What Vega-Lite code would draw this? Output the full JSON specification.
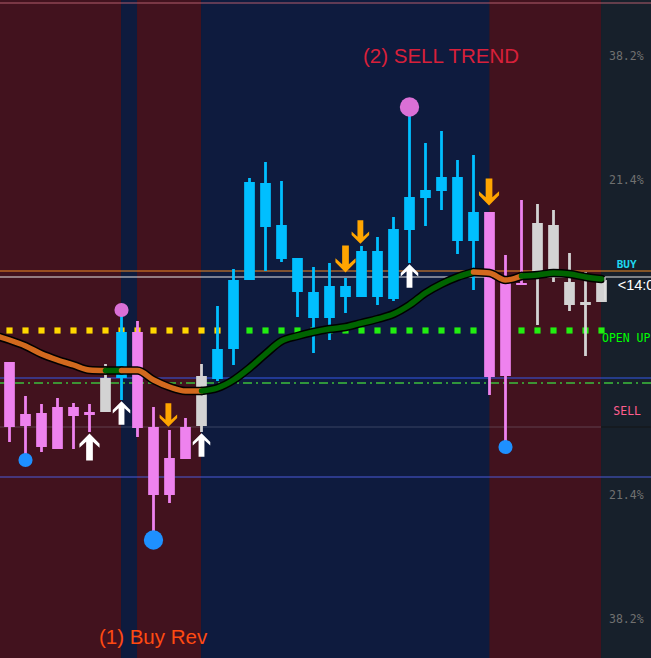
{
  "$schema": "https://vega.github.io/schema/vega-lite/v6.json",
  "width": 651,
  "height": 658,
  "autosize": {"type": "none"},
  "padding": 0,
  "background": "#17202b",
  "config": {"view": {"stroke": null}, "scale": {"continuousPadding": 0}},
  "datasets": {
    "bands": [
      {"x1": -0.6, "x2": 6.97, "cat": "reversal"},
      {"x1": 6.97, "x2": 7.97, "cat": "trend"},
      {"x1": 7.97, "x2": 11.97, "cat": "reversal"},
      {"x1": 11.97, "x2": 30.0, "cat": "trend"},
      {"x1": 30.0, "x2": 36.97, "cat": "reversal"},
      {"x1": 36.97, "x2": 40.2, "cat": "scale"}
    ],
    "levels": [
      {"lvl": 3, "cat": "top"},
      {"lvl": 271, "cat": "entry"},
      {"lvl": 277, "cat": "price"},
      {"lvl": 378, "cat": "open"},
      {"lvl": 477, "cat": "floor"}
    ],
    "candles": [
      {"i": 0, "o": 362, "c": 427, "h": 362, "l": 442, "cat": "bear"},
      {"i": 1, "o": 414, "c": 426, "h": 396, "l": 462, "cat": "bear"},
      {"i": 2, "o": 413, "c": 447, "h": 404, "l": 452, "cat": "bear"},
      {"i": 3, "o": 407, "c": 449, "h": 398, "l": 449, "cat": "bear"},
      {"i": 4, "o": 407, "c": 416, "h": 403, "l": 449, "cat": "bear"},
      {"i": 5, "o": 412, "c": 415, "h": 404, "l": 432, "cat": "bear"},
      {"i": 6, "o": 378, "c": 412, "h": 364, "l": 412, "cat": "flat"},
      {"i": 7, "o": 332, "c": 378, "h": 312, "l": 400, "cat": "bull"},
      {"i": 8, "o": 332, "c": 428, "h": 321, "l": 437, "cat": "bear"},
      {"i": 9, "o": 427, "c": 495, "h": 407, "l": 543, "cat": "bear"},
      {"i": 10, "o": 458, "c": 495, "h": 430, "l": 503, "cat": "bear"},
      {"i": 11, "o": 427, "c": 459, "h": 418, "l": 459, "cat": "bear"},
      {"i": 12, "o": 376, "c": 426, "h": 364, "l": 432, "cat": "flat"},
      {"i": 13, "o": 349, "c": 379, "h": 306, "l": 381, "cat": "bull"},
      {"i": 14, "o": 280, "c": 349, "h": 269, "l": 365, "cat": "bull"},
      {"i": 15, "o": 182, "c": 280, "h": 178, "l": 280, "cat": "bull"},
      {"i": 16, "o": 183, "c": 227, "h": 162, "l": 271, "cat": "bull"},
      {"i": 17, "o": 225, "c": 259, "h": 181, "l": 262, "cat": "bull"},
      {"i": 18, "o": 258, "c": 292, "h": 258, "l": 317, "cat": "bull"},
      {"i": 19, "o": 292, "c": 318, "h": 267, "l": 353, "cat": "bull"},
      {"i": 20, "o": 286, "c": 318, "h": 263, "l": 340, "cat": "bull"},
      {"i": 21, "o": 286, "c": 297, "h": 278, "l": 313, "cat": "bull"},
      {"i": 22, "o": 251, "c": 297, "h": 246, "l": 297, "cat": "bull"},
      {"i": 23, "o": 251, "c": 297, "h": 237, "l": 305, "cat": "bull"},
      {"i": 24, "o": 229, "c": 299, "h": 217, "l": 301, "cat": "bull"},
      {"i": 25, "o": 197, "c": 230, "h": 109, "l": 263, "cat": "bull"},
      {"i": 26, "o": 190, "c": 198, "h": 143, "l": 226, "cat": "bull"},
      {"i": 27, "o": 177, "c": 191, "h": 131, "l": 210, "cat": "bull"},
      {"i": 28, "o": 177, "c": 241, "h": 160, "l": 254, "cat": "bull"},
      {"i": 29, "o": 212, "c": 241, "h": 155, "l": 290, "cat": "bull"},
      {"i": 30, "o": 212, "c": 377, "h": 212, "l": 395, "cat": "bear"},
      {"i": 31, "o": 283, "c": 376, "h": 255, "l": 447, "cat": "bear"},
      {"i": 32, "o": 283, "c": 285, "h": 200, "l": 285, "cat": "bear"},
      {"i": 33, "o": 223, "c": 273, "h": 204, "l": 325, "cat": "flat"},
      {"i": 34, "o": 225, "c": 270, "h": 210, "l": 282, "cat": "flat"},
      {"i": 35, "o": 282, "c": 305, "h": 253, "l": 311, "cat": "flat"},
      {"i": 36, "o": 302, "c": 305, "h": 272, "l": 356, "cat": "flat"},
      {"i": 37, "o": 280, "c": 302, "h": 280, "l": 302, "cat": "flat"}
    ],
    "dots": [
      {"i": 0, "lvl": 330.5, "cat": "wait"}, {"i": 1, "lvl": 330.5, "cat": "wait"}, {"i": 2, "lvl": 330.5, "cat": "wait"},
      {"i": 3, "lvl": 330.5, "cat": "wait"}, {"i": 4, "lvl": 330.5, "cat": "wait"}, {"i": 5, "lvl": 330.5, "cat": "wait"},
      {"i": 6, "lvl": 330.5, "cat": "wait"}, {"i": 7, "lvl": 330.5, "cat": "wait"}, {"i": 8, "lvl": 330.5, "cat": "wait"},
      {"i": 9, "lvl": 330.5, "cat": "wait"}, {"i": 10, "lvl": 330.5, "cat": "wait"}, {"i": 11, "lvl": 330.5, "cat": "wait"},
      {"i": 12, "lvl": 330.5, "cat": "wait"}, {"i": 13, "lvl": 330.5, "cat": "wait"}, {"i": 14, "lvl": 330.5, "cat": "wait"},
      {"i": 15, "lvl": 330.5, "cat": "go"}, {"i": 16, "lvl": 330.5, "cat": "go"}, {"i": 17, "lvl": 330.5, "cat": "go"},
      {"i": 18, "lvl": 330.5, "cat": "go"}, {"i": 19, "lvl": 330.5, "cat": "go"}, {"i": 20, "lvl": 330.5, "cat": "go"},
      {"i": 21, "lvl": 330.5, "cat": "go"}, {"i": 22, "lvl": 330.5, "cat": "go"}, {"i": 23, "lvl": 330.5, "cat": "go"},
      {"i": 24, "lvl": 330.5, "cat": "go"}, {"i": 25, "lvl": 330.5, "cat": "go"}, {"i": 26, "lvl": 330.5, "cat": "go"},
      {"i": 27, "lvl": 330.5, "cat": "go"}, {"i": 28, "lvl": 330.5, "cat": "go"}, {"i": 29, "lvl": 330.5, "cat": "go"},
      {"i": 30, "lvl": 330.5, "cat": "go"}, {"i": 31, "lvl": 330.5, "cat": "go"}, {"i": 32, "lvl": 330.5, "cat": "go"},
      {"i": 33, "lvl": 330.5, "cat": "go"}, {"i": 34, "lvl": 330.5, "cat": "go"}, {"i": 35, "lvl": 330.5, "cat": "go"},
      {"i": 36, "lvl": 330.5, "cat": "go"}, {"i": 37, "lvl": 330.5, "cat": "go"}
    ],
    "ma": [
      {"i": -0.59, "v": 337, "seg": 1, "cat": "falling"},
      {"i": 0, "v": 340, "seg": 1, "cat": "falling"},
      {"i": 1, "v": 346, "seg": 1, "cat": "falling"},
      {"i": 2, "v": 354, "seg": 1, "cat": "falling"},
      {"i": 3, "v": 360, "seg": 1, "cat": "falling"},
      {"i": 4, "v": 365, "seg": 1, "cat": "falling"},
      {"i": 5, "v": 370, "seg": 1, "cat": "falling"},
      {"i": 6, "v": 370.5, "seg": 1, "cat": "falling"},
      {"i": 6, "v": 370.5, "seg": 2, "cat": "rising"},
      {"i": 7, "v": 370.5, "seg": 2, "cat": "rising"},
      {"i": 7, "v": 370.5, "seg": 3, "cat": "falling"},
      {"i": 8, "v": 370.5, "seg": 3, "cat": "falling"},
      {"i": 9, "v": 380, "seg": 3, "cat": "falling"},
      {"i": 10, "v": 387, "seg": 3, "cat": "falling"},
      {"i": 11, "v": 391, "seg": 3, "cat": "falling"},
      {"i": 12, "v": 391, "seg": 3, "cat": "falling"},
      {"i": 12, "v": 391, "seg": 4, "cat": "rising"},
      {"i": 13, "v": 388, "seg": 4, "cat": "rising"},
      {"i": 14, "v": 380, "seg": 4, "cat": "rising"},
      {"i": 15, "v": 368, "seg": 4, "cat": "rising"},
      {"i": 16, "v": 354, "seg": 4, "cat": "rising"},
      {"i": 17, "v": 341, "seg": 4, "cat": "rising"},
      {"i": 18, "v": 336, "seg": 4, "cat": "rising"},
      {"i": 19, "v": 332, "seg": 4, "cat": "rising"},
      {"i": 20, "v": 329, "seg": 4, "cat": "rising"},
      {"i": 21, "v": 327, "seg": 4, "cat": "rising"},
      {"i": 22, "v": 323, "seg": 4, "cat": "rising"},
      {"i": 23, "v": 319, "seg": 4, "cat": "rising"},
      {"i": 24, "v": 314, "seg": 4, "cat": "rising"},
      {"i": 25, "v": 305, "seg": 4, "cat": "rising"},
      {"i": 26, "v": 293, "seg": 4, "cat": "rising"},
      {"i": 27, "v": 284, "seg": 4, "cat": "rising"},
      {"i": 28, "v": 277, "seg": 4, "cat": "rising"},
      {"i": 29, "v": 272, "seg": 4, "cat": "rising"},
      {"i": 29, "v": 272, "seg": 5, "cat": "falling"},
      {"i": 30, "v": 273, "seg": 5, "cat": "falling"},
      {"i": 31, "v": 280, "seg": 5, "cat": "falling"},
      {"i": 32, "v": 276, "seg": 5, "cat": "falling"},
      {"i": 32, "v": 276, "seg": 6, "cat": "rising"},
      {"i": 33, "v": 275, "seg": 6, "cat": "rising"},
      {"i": 34, "v": 273, "seg": 6, "cat": "rising"},
      {"i": 35, "v": 274, "seg": 6, "cat": "rising"},
      {"i": 36, "v": 277, "seg": 6, "cat": "rising"},
      {"i": 37, "v": 279, "seg": 6, "cat": "rising"}
    ],
    "signals": [
      {"i": 1, "v": 460, "cat": "low", "mag": "minor"},
      {"i": 7, "v": 310, "cat": "high", "mag": "minor"},
      {"i": 9, "v": 540, "cat": "low", "mag": "major"},
      {"i": 25, "v": 107, "cat": "high", "mag": "major"},
      {"i": 31, "v": 447, "cat": "low", "mag": "minor"}
    ],
    "arrows": [
      {"i": 5, "v": 447, "cat": "buy", "mag": "strong"},
      {"i": 7, "v": 413, "cat": "buy", "mag": "weak"},
      {"i": 12, "v": 445, "cat": "buy", "mag": "weak"},
      {"i": 25, "v": 276, "cat": "buy", "mag": "weak"},
      {"i": 9.93, "v": 415, "cat": "sell", "mag": "weak"},
      {"i": 21, "v": 259, "cat": "sell", "mag": "strong"},
      {"i": 21.93, "v": 232, "cat": "sell", "mag": "weak"},
      {"i": 29.97, "v": 192, "cat": "sell", "mag": "strong"}
    ],
    "labels": [
      {"label": "(2) SELL TREND", "i": 26.97, "v": 57, "role": "trend"},
      {"label": "(1) Buy Rev", "i": 8.97, "v": 638, "role": "rev"},
      {"label": "38.2%", "i": 37.47, "v": 57, "role": "fib"},
      {"label": "21.4%", "i": 37.47, "v": 181, "role": "fib"},
      {"label": "21.4%", "i": 37.47, "v": 496, "role": "fib"},
      {"label": "38.2%", "i": 37.47, "v": 620, "role": "fib"},
      {"label": "BUY", "i": 37.95, "v": 265, "role": "buy"},
      {"label": "OPEN UP", "i": 37.03, "v": 339, "role": "open"},
      {"label": "SELL", "i": 37.74, "v": 412, "role": "sell"},
      {"label": "<14:0", "i": 38.01, "v": 286, "role": "time"}
    ],
    "misc": [
      {"lvl": 427, "a": 36.97, "b": 40.09, "top": 277, "bottom": 300, "edge": 37.22, "dash": 383}
    ]
  },
  "layer": [
    {
      "data": {"name": "bands"},
      "mark": {"type": "rect", "clip": true},
      "encoding": {
        "x": {"field": "x1", "type": "quantitative", "scale": {"domain": [-0.59375, 40.09375], "nice": false, "zero": false, "padding": 0}, "axis": null},
        "x2": {"field": "x2"},
        "color": {"field": "cat", "type": "nominal", "legend": null,
          "scale": {
            "domain": ["reversal", "trend", "scale", "top", "entry", "price", "open", "floor", "wait", "go", "bear", "bull", "flat", "falling", "rising", "low", "high", "buy", "sell"],
            "range": ["#42121e", "#0e1b3e", "#17202b", "#b25c6c", "#f08a24", "#e6e6e6", "#3558e8", "#4a5ad8", "#ffd700", "#22ee11", "#ee82ee", "#00bfff", "#d3d3d3", "#d2691e", "#006400", "#1e90ff", "#da70d6", "#ffffff", "#ffa500"]}}
      }
    },
    {
      "data": {"name": "levels"},
      "mark": {"type": "rule", "strokeWidth": 1.2},
      "encoding": {
        "y": {"field": "lvl", "type": "quantitative", "scale": {"domain": [0, 658], "reverse": true, "nice": false, "zero": false, "padding": 0}, "axis": null},
        "color": {"field": "cat", "type": "nominal", "legend": null}
      }
    },
    {
      "data": {"name": "misc"},
      "layer": [
        {
          "mark": {"type": "rule", "strokeWidth": 1.2, "color": "#a0a8b8", "opacity": 0.3},
          "encoding": {"y": {"field": "lvl", "type": "quantitative", "axis": null}}
        },
        {
          "mark": {"type": "rule", "strokeWidth": 1.2, "color": "#000000"},
          "encoding": {
            "y": {"field": "lvl", "type": "quantitative", "axis": null},
            "x": {"field": "a", "type": "quantitative", "axis": null},
            "x2": {"field": "b"}
          }
        },
        {
          "mark": {"type": "rule", "strokeWidth": 1.3, "color": "#3cbf3c", "strokeDash": [9, 4, 2, 4]},
          "encoding": {"y": {"field": "dash", "type": "quantitative", "axis": null}}
        }
      ]
    },
    {
      "data": {"name": "dots"},
      "mark": {"type": "square", "size": 38, "opacity": 1},
      "encoding": {
        "x": {"field": "i", "type": "quantitative", "axis": null},
        "y": {"field": "lvl", "type": "quantitative", "axis": null},
        "color": {"field": "cat", "type": "nominal", "legend": null}
      }
    },
    {
      "data": {"name": "candles"},
      "layer": [
        {
          "mark": {"type": "rule", "strokeWidth": 2.8},
          "encoding": {
            "x": {"field": "i", "type": "quantitative", "axis": null},
            "y": {"field": "h", "type": "quantitative", "axis": null},
            "y2": {"field": "l"},
            "color": {"field": "cat", "type": "nominal", "legend": null}
          }
        },
        {
          "mark": {"type": "bar", "width": 10.7},
          "encoding": {
            "x": {"field": "i", "type": "quantitative", "axis": null},
            "y": {"field": "o", "type": "quantitative", "axis": null},
            "y2": {"field": "c"},
            "color": {"field": "cat", "type": "nominal", "legend": null}
          }
        }
      ]
    },
    {
      "data": {"name": "ma"},
      "layer": [
        {
          "mark": {"type": "line", "strokeWidth": 8.5, "color": "#000000", "interpolate": "monotone", "strokeCap": "round", "clip": true},
          "encoding": {
            "x": {"field": "i", "type": "quantitative", "axis": null},
            "y": {"field": "v", "type": "quantitative", "axis": null},
            "detail": {"field": "seg", "type": "nominal"}
          }
        },
        {
          "mark": {"type": "line", "strokeWidth": 5.5, "interpolate": "monotone", "strokeCap": "round", "clip": true},
          "encoding": {
            "x": {"field": "i", "type": "quantitative", "axis": null},
            "y": {"field": "v", "type": "quantitative", "axis": null},
            "detail": {"field": "seg", "type": "nominal"},
            "color": {"field": "cat", "type": "nominal", "legend": null}
          }
        }
      ]
    },
    {
      "data": {"name": "signals"},
      "mark": {"type": "circle", "opacity": 1},
      "encoding": {
        "x": {"field": "i", "type": "quantitative", "axis": null},
        "y": {"field": "v", "type": "quantitative", "axis": null},
        "size": {"field": "mag", "type": "nominal", "legend": null,
          "scale": {"domain": ["minor", "major", "weak", "strong"], "range": [200, 720, 380, 560]}},
        "color": {"field": "cat", "type": "nominal", "legend": null}
      }
    },
    {
      "data": {"name": "arrows"},
      "mark": {"type": "point", "filled": true, "opacity": 1},
      "encoding": {
        "x": {"field": "i", "type": "quantitative", "axis": null},
        "y": {"field": "v", "type": "quantitative", "axis": null},
        "shape": {"field": "cat", "type": "nominal", "legend": null,
          "scale": {"domain": ["buy", "sell"], "range": [
            "M0,-1L0.75,-0.25L0.75,0.05L0.25,-0.4L0.25,1L-0.25,1L-0.25,-0.4L-0.75,0.05L-0.75,-0.25Z",
            "M0,1L0.75,0.25L0.75,-0.05L0.25,0.4L0.25,-1L-0.25,-1L-0.25,0.4L-0.75,-0.05L-0.75,0.25Z"]}},
        "size": {"field": "mag", "type": "nominal", "legend": null},
        "color": {"field": "cat", "type": "nominal", "legend": null}
      }
    },
    {
      "data": {"name": "misc"},
      "mark": {"type": "rule", "strokeWidth": 1.2, "color": "#e6e6e6"},
      "encoding": {
        "x": {"field": "edge", "type": "quantitative", "axis": null},
        "y": {"field": "top", "type": "quantitative", "axis": null},
        "y2": {"field": "bottom"}
      }
    },
    {
      "data": {"name": "labels"},
      "layer": [
        {
          "transform": [{"filter": "datum.role === 'trend'"}],
          "mark": {"type": "text", "font": "Liberation Sans", "fontSize": 20.5, "color": "#d8203a", "align": "center", "baseline": "middle"},
          "encoding": {
            "x": {"field": "i", "type": "quantitative", "axis": null},
            "y": {"field": "v", "type": "quantitative", "axis": null},
            "text": {"field": "label", "type": "nominal"}
          }
        },
        {
          "transform": [{"filter": "datum.role === 'rev'"}],
          "mark": {"type": "text", "font": "Liberation Sans", "fontSize": 20.5, "color": "#ff4a12", "align": "center", "baseline": "middle"},
          "encoding": {
            "x": {"field": "i", "type": "quantitative", "axis": null},
            "y": {"field": "v", "type": "quantitative", "axis": null},
            "text": {"field": "label", "type": "nominal"}
          }
        },
        {
          "transform": [{"filter": "datum.role === 'fib'"}],
          "mark": {"type": "text", "font": "DejaVu Sans Mono", "fontSize": 11.5, "color": "#707070", "align": "left", "baseline": "middle"},
          "encoding": {
            "x": {"field": "i", "type": "quantitative", "axis": null},
            "y": {"field": "v", "type": "quantitative", "axis": null},
            "text": {"field": "label", "type": "nominal"}
          }
        },
        {
          "transform": [{"filter": "datum.role === 'buy'"}],
          "mark": {"type": "text", "font": "DejaVu Sans Mono", "fontSize": 11, "fontWeight": "bold", "color": "#1ed8f0", "align": "left", "baseline": "middle"},
          "encoding": {
            "x": {"field": "i", "type": "quantitative", "axis": null},
            "y": {"field": "v", "type": "quantitative", "axis": null},
            "text": {"field": "label", "type": "nominal"}
          }
        },
        {
          "transform": [{"filter": "datum.role === 'open'"}],
          "mark": {"type": "text", "font": "DejaVu Sans Mono", "fontSize": 11.5, "color": "#00ff00", "align": "left", "baseline": "middle", "clip": true},
          "encoding": {
            "x": {"field": "i", "type": "quantitative", "axis": null},
            "y": {"field": "v", "type": "quantitative", "axis": null},
            "text": {"field": "label", "type": "nominal"}
          }
        },
        {
          "transform": [{"filter": "datum.role === 'sell'"}],
          "mark": {"type": "text", "font": "DejaVu Sans Mono", "fontSize": 11.5, "color": "#ff5e8e", "align": "left", "baseline": "middle"},
          "encoding": {
            "x": {"field": "i", "type": "quantitative", "axis": null},
            "y": {"field": "v", "type": "quantitative", "axis": null},
            "text": {"field": "label", "type": "nominal"}
          }
        },
        {
          "transform": [{"filter": "datum.role === 'time'"}],
          "mark": {"type": "text", "font": "Liberation Sans", "fontSize": 14.5, "color": "#ffffff", "align": "left", "baseline": "middle", "clip": true},
          "encoding": {
            "x": {"field": "i", "type": "quantitative", "axis": null},
            "y": {"field": "v", "type": "quantitative", "axis": null},
            "text": {"field": "label", "type": "nominal"}
          }
        }
      ]
    }
  ]
}
